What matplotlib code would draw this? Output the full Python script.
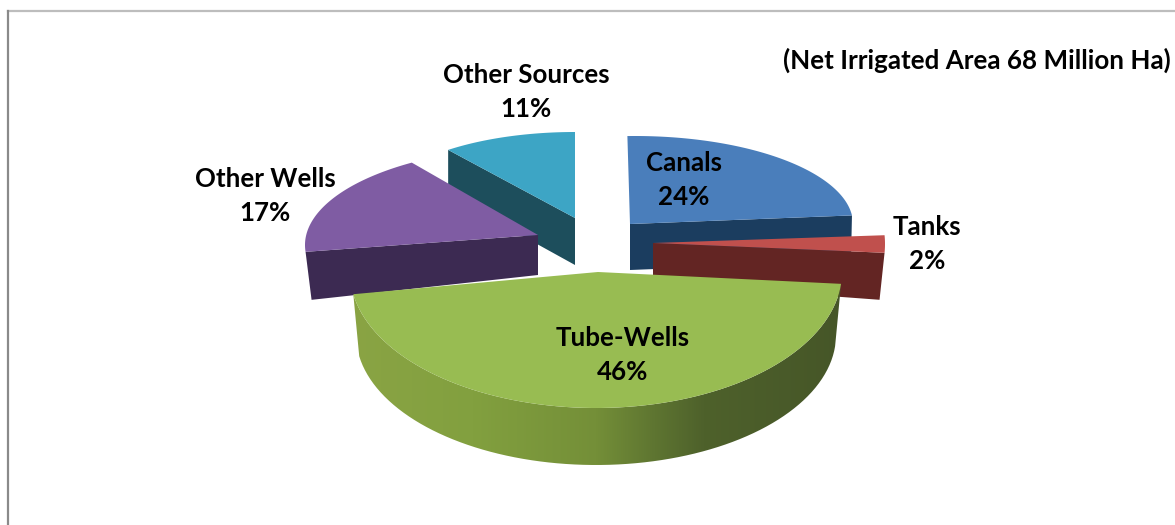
import numpy as np
import matplotlib
matplotlib.use('Agg')
import matplotlib.pyplot as plt
from matplotlib.colors import LinearSegmentedColormap
from matplotlib.patches import Polygon

# Data
categories = ['Canals', 'Tanks', 'Tube-Wells', 'Other Wells', 'Other Sources']
shares = [24, 2, 46, 17, 11]
note = '(Net Irrigated Area 68 Million Ha)'

# Look of each slice in image pixels: ellipse centre and radii, apex, rotation (deg),
# wall depth at the apex / at the far corner, and how far the far corner leans sideways
slice_styles = {
  'Canals': dict(c=(635, 224), r=(218, 88), apex=(630, 224), rot=-2, depth=(46, 46), lean=-1,
                 top='#4a7ebb', wall='#1b3d5f', label=(684, 180)),
  'Tanks': dict(c=(653, 244), r=(232, 140), apex=(653, 243), rot=0, depth=(40, 47), lean=-5,
                top='#c0504d', wall='#632523', label=(927, 244)),
  'Tube-Wells': dict(c=(596, 272), r=(246, 136), apex=(598, 272), rot=1.4, depth=(0, 0), lean=0,
                     top='#98bc52', wall='#6f8a36', label=(623, 355)),
  'Other Wells': dict(c=(538, 245), r=(233, 98), apex=(538, 235), rot=6.8, depth=(40, 48), lean=6,
                      top='#7f5ca3', wall='#3c2a52', label=(265, 196)),
  'Other Sources': dict(c=(575, 210), r=(199, 78), apex=(575, 218), rot=0, depth=(47, 45), lean=0,
                        top='#3da5c5', wall='#1d4e5c', label=(526, 92)),
}
draw_order = ['Other Sources', 'Other Wells', 'Canals', 'Tanks', 'Tube-Wells']

plt.rcParams['font.family'] = ['Lato', 'DejaVu Sans']

fig = plt.figure(figsize=(11.75, 5.25), dpi=100)
ax = fig.add_axes([0, 0, 1, 1])


def arc(c, r, a0, a1, n=80):
  # clockwise from 12 o'clock, y axis points down
  t = np.radians(np.linspace(a0, a1, n))
  return np.column_stack([c[0] + r[0] * np.sin(t), c[1] - r[1] * np.cos(t)])


# Angle of each slice comes from the shares
ends = np.cumsum(shares) / np.sum(shares) * 360
starts = np.concatenate([[0], ends[:-1]])
angles = {cat: (s, e) for cat, s, e in zip(categories, starts, ends)}

for cat in draw_order:
  st = slice_styles[cat]
  a0, a1 = angles[cat]
  rim = arc(st['c'], st['r'], a0 + st['rot'], a1 + st['rot'])
  apex = np.array(st['apex'], dtype=float)

  if cat == 'Tube-Wells':
    # Round side with a left-to-right shading
    low = arc((596, 335), (240, 130), a0 + st['rot'], a1 + st['rot'])
    side = np.vstack([rim, low[::-1]])
    cmap = LinearSegmentedColormap.from_list('side', [
      (0.0, '#8aa444'), (0.25, '#82a03f'), (0.5, '#748f38'),
      (0.62, '#5e7531'), (0.72, '#4e612b'), (1.0, '#465628')])
    img = ax.imshow(np.linspace(0, 1, 256).reshape(1, -1), cmap=cmap, aspect='auto',
                    extent=(350, 842, 470, 275), zorder=2)
    clip = Polygon(side, transform=ax.transData)
    img.set_clip_path(clip)
  else:
    # The far corner is the end of the rim that is not hidden behind the apex wall
    far = rim[0] if cat in ('Other Wells', 'Other Sources') else rim[-1]
    near_depth, far_depth = st['depth']
    wall = [apex, far, far + (st['lean'], far_depth), apex + (0, near_depth)]
    ax.add_patch(Polygon(wall, closed=True, fc=st['wall'], lw=0, zorder=2))

  top = np.vstack([[apex], rim])
  ax.add_patch(Polygon(top, closed=True, fc=st['top'], lw=0, zorder=2))

# Labels
for cat, share in zip(categories, shares):
  x, y = slice_styles[cat]['label']
  ax.text(x, y, f'{cat}\n{share}%', ha='center', va='center', fontsize=18.6,
          fontweight='bold', color='black', linespacing=1.5, zorder=3)

ax.text(977, 60, note, ha='center', va='center', fontsize=18.7, fontweight='bold',
        color='black', zorder=3)

# Outer frame
ax.plot([8, 1175], [11, 11], color='#bdbdbd', lw=1.6, zorder=1)
ax.plot([8, 8], [11, 525], color='#8a8a8a', lw=1.6, zorder=1)

ax.set_xlim(0, 1175)
ax.set_ylim(525, 0)
ax.axis('off')

fig.savefig('out.png', dpi=100)
